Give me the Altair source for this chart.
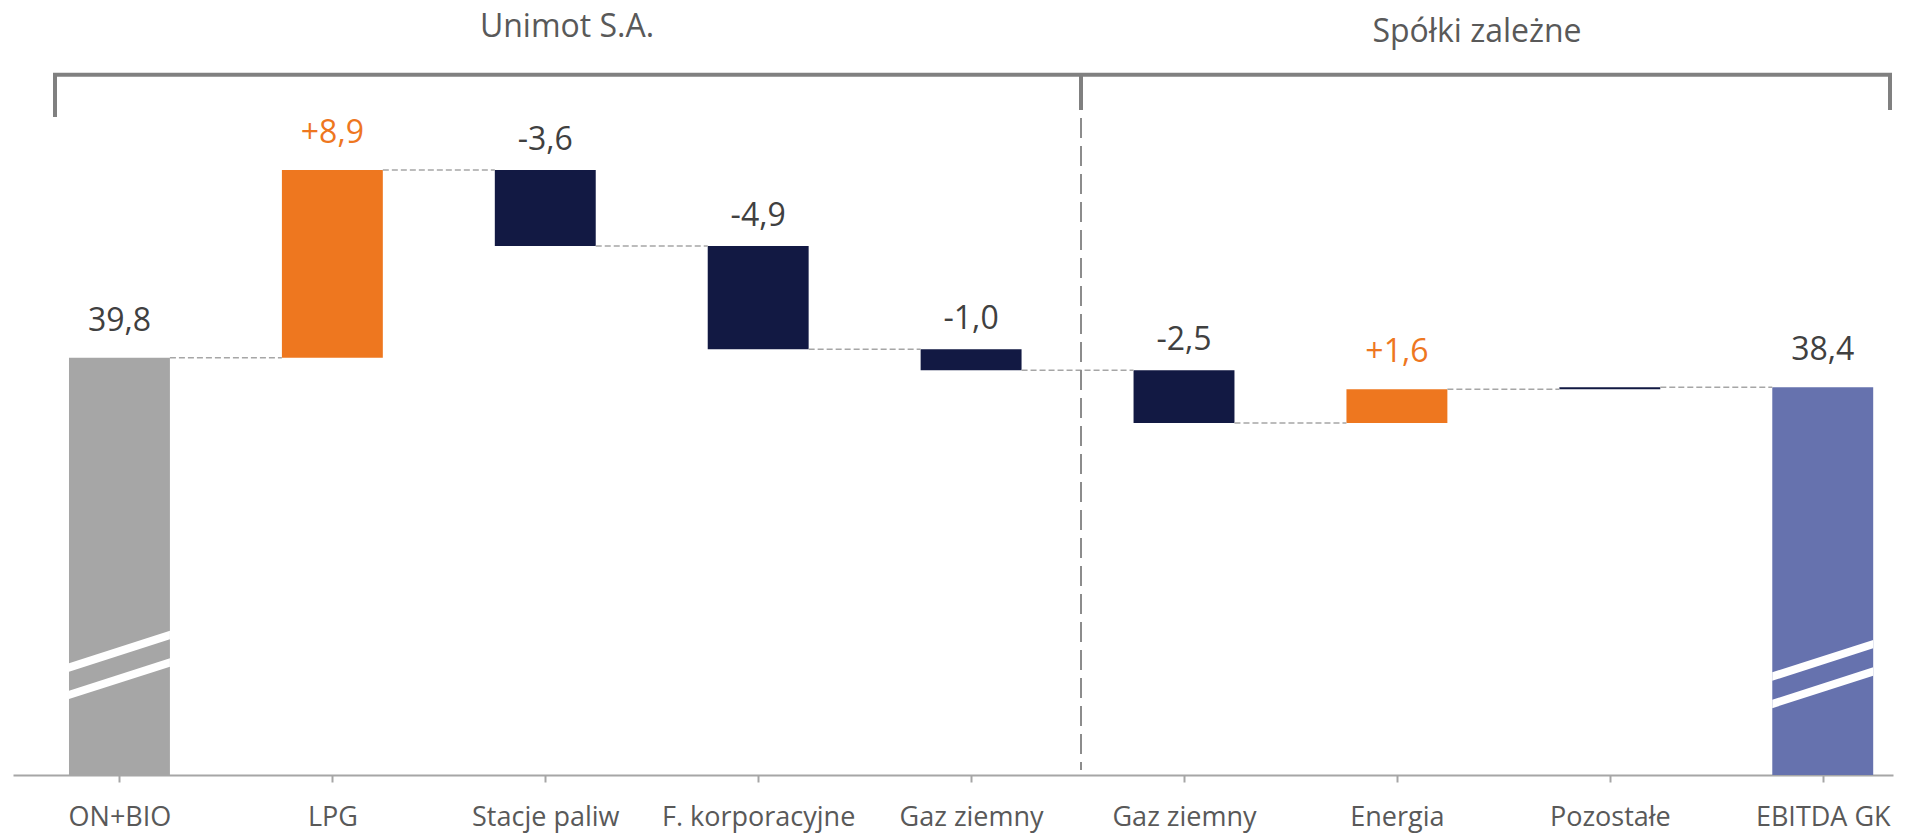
import json
import altair as alt
import pandas as pd

# ---------------- data ----------------
categories = ["ON+BIO", "LPG", "Stacje paliw", "F. korporacyjne", "Gaz ziemny",
              "Gaz ziemny", "Energia", "Pozostałe", "EBITDA GK"]
start_value = 39.8
changes = [8.9, -3.6, -4.9, -1.0, -2.5, 1.6, 0.1]
end_value = 38.4
value_labels = ["39,8", "+8,9", "-3,6", "-4,9", "-1,0", "-2,5", "+1,6", "", "38,4"]
bar_kinds = ["start", "up", "down", "down", "down", "down", "up", "down", "total"]
group_titles = ["Unimot S.A.", "Spółki zależne"]

# ---------------- style ----------------
Y_MIN, Y_MAX = 20.0, 56.15
X_MIN, X_MAX = -0.5, 8.33
W, H = 1880, 762
HALF = 0.237
FONT = "Open Sans"
kind_domain = ["start", "up", "down", "total"]
kind_colors = ["#A6A6A6", "#EE771F", "#121943", "#6672AE"]

# ---------------- tables ----------------
rows = []
level = start_value
rows.append(dict(i=0, lo=Y_MIN, hi=start_value, kind=bar_kinds[0], label=value_labels[0]))
for k, ch in enumerate(changes, start=1):
    new = level + ch
    rows.append(dict(i=k, lo=min(level, new), hi=max(level, new), kind=bar_kinds[k],
                     label=value_labels[k]))
    level = new
rows.append(dict(i=len(categories) - 1, lo=Y_MIN, hi=end_value, kind=bar_kinds[-1],
                 label=value_labels[-1]))
bars = pd.DataFrame(rows)
bars["x0"] = bars["i"] - HALF
bars["x1"] = bars["i"] + HALF

levels = [start_value]
lv = start_value
for ch in changes:
    lv += ch
    levels.append(lv)
conn = pd.DataFrame({
    "x0": [i + HALF for i in range(len(levels))],
    "x1": [i + 1 - HALF for i in range(len(levels))],
    "y": levels,
})

# axis-break stripes (decoration on the two total bars)
break_base = {0: 23.80, len(categories) - 1: 23.37}
GAP, RISE, THICK = 1.30, 1.54, 0.40
srows = []
for bi, base in break_base.items():
    for s in range(2):
        c = base + s * GAP
        for side, dx in ((0, -HALF), (1, HALF)):
            cy = c + RISE * side
            srows.append(dict(x=bi + dx, y=cy - THICK / 2, y2=cy + THICK / 2,
                              shape=f"s{bi}_{s}"))
stripes = pd.DataFrame(srows)

xs = alt.Scale(domain=[X_MIN, X_MAX], nice=False, zero=False)
ys = alt.Scale(domain=[Y_MIN, Y_MAX], nice=False, zero=False)

label_expr = json.dumps(categories, ensure_ascii=False) + "[datum.value]"


def x_axis():
    return alt.Axis(
        values=list(range(len(categories))), labelExpr=label_expr, title=None,
        grid=False, domainColor="#A6A6A6", domainWidth=2, tickColor="#A6A6A6",
        tickWidth=2, tickSize=7, labelPadding=43, labelBaseline="alphabetic",
        labelFont=FONT, labelFontSize=27, labelColor="#595959", labelLimit=500,
        labelFlush=False, labelOverlap=False, labelBound=False)


def xq(field):
    return alt.X(field, scale=xs, axis=x_axis())


def yq(field):
    return alt.Y(field, scale=ys, axis=None)


bar_layer = alt.Chart(bars).mark_bar().encode(
    x=xq("x0:Q"), x2="x1:Q", y=yq("lo:Q"), y2="hi:Q",
    color=alt.Color("kind:N", scale=alt.Scale(domain=kind_domain, range=kind_colors),
                    legend=None),
)

conn_layer = alt.Chart(conn).mark_rule(color="#A6A6A6", strokeWidth=1.5,
                                       strokeDash=[6, 3]).encode(
    x=xq("x0:Q"), x2="x1:Q", y=yq("y:Q"))

stripe_layer = alt.Chart(stripes).mark_area(color="white", opacity=1).encode(
    x=xq("x:Q"), y=yq("y:Q"), y2="y2:Q", detail="shape:N")

lbl = bars[bars["label"] != ""]


def label_layer(df, color, dy):
    return alt.Chart(df).mark_text(
        font=FONT, fontSize=32, baseline="alphabetic", align="center", dy=dy,
        color=color).encode(x=xq("i:Q"), y=yq("hi:Q"), text="label:N")


text_up = label_layer(lbl[lbl["kind"] == "up"], "#EE771F", -27)
text_tot = label_layer(lbl[lbl["kind"].isin(["start", "total"])], "#404040", -27)
text_down = label_layer(lbl[lbl["kind"] == "down"], "#404040", -20)

one = pd.DataFrame({"a": [0]})
sep = alt.Chart(one).mark_rule(
    color="#8C8C8C", strokeWidth=2, strokeDash=[20, 8]).encode(
    x=alt.value(1068), y=alt.value(105), y2=alt.value(757))
br_h = alt.Chart(one).mark_rule(color="#808080", strokeWidth=4).encode(
    x=alt.value(40), x2=alt.value(1879), y=alt.value(61.7))
br_l = alt.Chart(one).mark_rule(color="#808080", strokeWidth=4).encode(
    x=alt.value(42), y=alt.value(60), y2=alt.value(104))
br_m = alt.Chart(one).mark_rule(color="#808080", strokeWidth=4).encode(
    x=alt.value(1068), y=alt.value(60), y2=alt.value(97))
br_r = alt.Chart(one).mark_rule(color="#808080", strokeWidth=4).encode(
    x=alt.value(1877), y=alt.value(60), y2=alt.value(97))

t1 = alt.Chart(one).mark_text(
    text=group_titles[0], font=FONT, fontSize=32, color="#595959",
    baseline="alphabetic", align="center").encode(x=alt.value(554), y=alt.value(24))
t2 = alt.Chart(one).mark_text(
    text=group_titles[1], font=FONT, fontSize=32, color="#595959",
    baseline="alphabetic", align="center").encode(x=alt.value(1464), y=alt.value(29))

chart = alt.layer(
    bar_layer, conn_layer, stripe_layer, text_up, text_tot, text_down,
    sep, br_h, br_l, br_m, br_r, t1, t2,
).properties(
    width=W, height=H,
    autosize=alt.AutoSizeParams(type="none"),
    padding={"left": 5, "top": 5, "right": 5, "bottom": 70},
    background="white",
).configure_view(stroke=None)

chart.save("out.html", embed_options={"renderer": "svg", "actions": False})
